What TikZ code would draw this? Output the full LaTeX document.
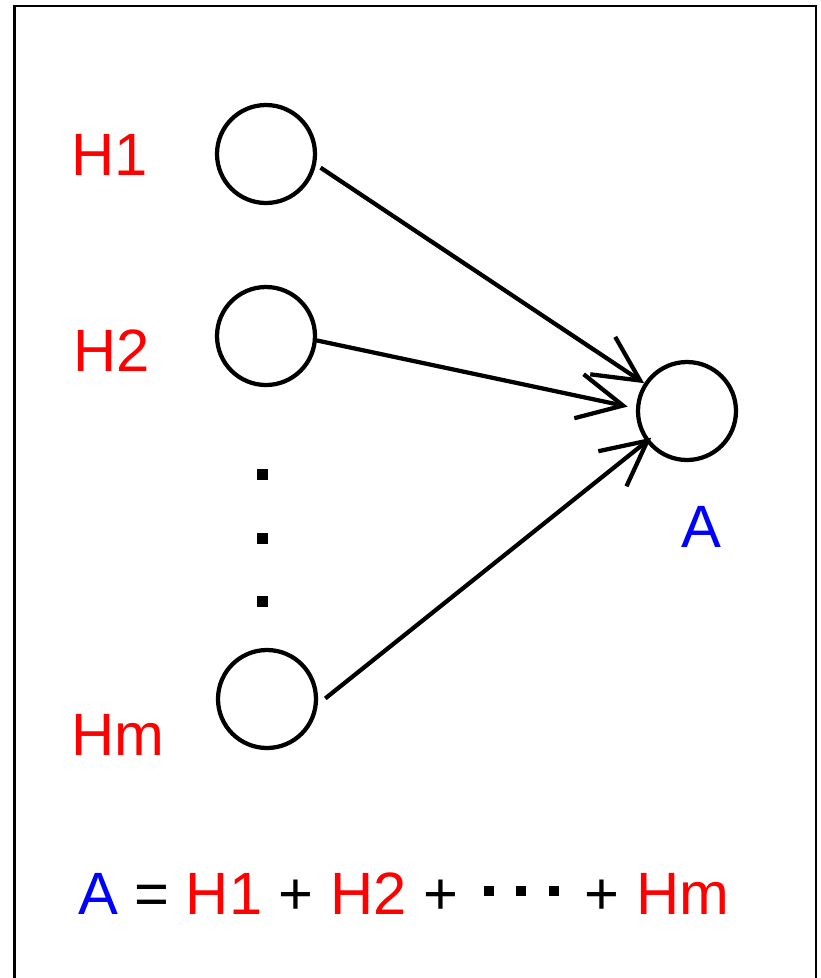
\documentclass[tikz,border=0pt]{standalone}
\usepackage{fontspec}
\setmainfont{Liberation Sans}
\usetikzlibrary{arrows.meta}

% three small squares for the omitted terms
\newcommand{\sqdots}{\hspace{0.18cm}\rule[0.36cm]{0.2cm}{0.2cm}\hspace{0.45cm}\rule[0.36cm]{0.2cm}{0.2cm}\hspace{0.45cm}\rule[0.36cm]{0.2cm}{0.2cm}\hspace{0.18cm}}

\begin{document}
\begin{tikzpicture}[
    unit/.style = {draw, circle, line width = 0.085cm, minimum size = 1.96cm},
    lbl/.style = {font = \fontsize{34}{40}\selectfont, inner sep = 0pt},
    sq/.style = {fill, inner sep = 0pt, minimum size = 0.22cm},
    link/.style = {line width = 0.085cm, -{Straight Barb[length = 0.9cm, width = 0.9cm]}}
]
\useasboundingbox (0,0) rectangle (16.42,-19.56);
\draw[line width = 0.045cm] (0.29,-0.12) rectangle (16.32,-20);

\node[unit] (h1) at (5.32,-3.08) {};
\node[unit] (h2) at (5.32,-6.72) {};
\node[unit] (hm) at (5.34,-13.98) {};
\node[unit] (a) at (13.74,-8.22) {};

\node[lbl, red] (h1lbl) at (2.2,-3.1) {H1};
\node[lbl, red] (h2lbl) at (2.24,-7.02) {H2};
\node[lbl, red] (hmlbl) at (2.36,-14.7) {Hm};
\node[lbl, blue] (albl) at (14.02,-10.54) {A};

% vertical dots
\foreach \i/\y in {1/-9.49, 2/-10.77, 3/-12.03}
    \node[sq] (vd\i) at (5.25,\y) {};

% arrows
\draw[link, shorten <= 0.11cm] (h1.-12) -- (a.147.5);
\draw[link, shorten >= 0.17cm] (h2.-5.5) -- (a.177);
\draw[link, shorten <= 0.19cm, shorten >= -0.13cm] (hm.-6.7) -- (a.217.6);

\node[lbl, anchor = base] (sum) at (8.07,-18.28)
    {\textcolor{blue}{A} = \textcolor{red}{H1} + \textcolor{red}{H2} + \sqdots{} + \textcolor{red}{Hm}};

\end{tikzpicture}
\end{document}
